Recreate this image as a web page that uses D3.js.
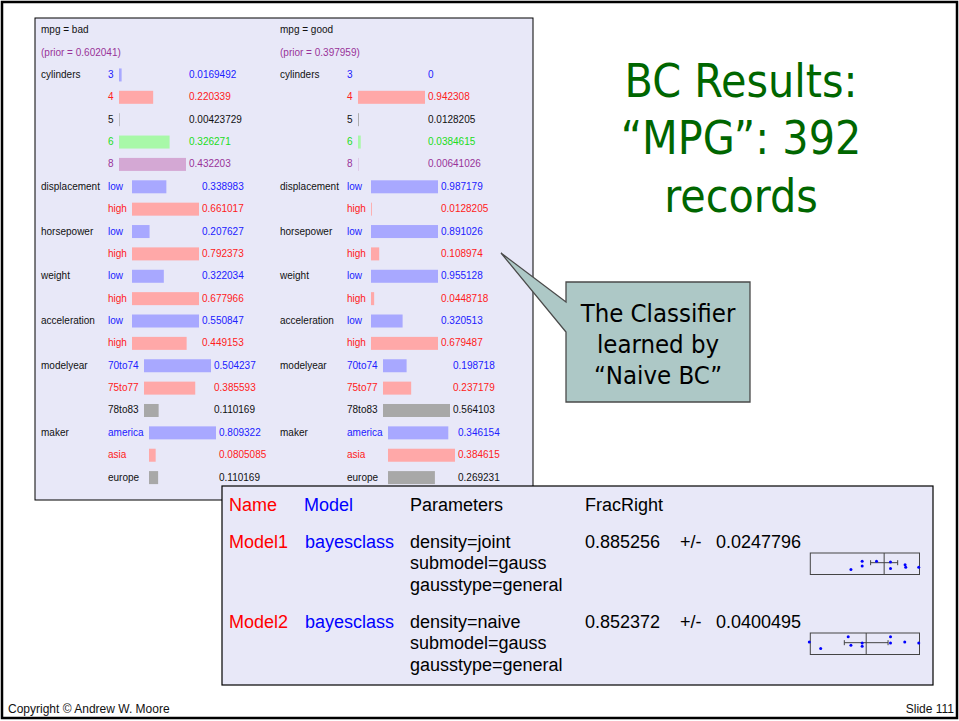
<!DOCTYPE html>
<html>
<head>
<meta charset="utf-8">
<script src="https://cdn.jsdelivr.net/npm/d3@7"></script>
<style>
  body { margin: 0; background: #fff; }
  svg { display: block; }
  .arial { font-family: "Liberation Sans", Arial, sans-serif; }
  .tahoma { font-family: "DejaVu Sans Condensed", "DejaVu Sans", Tahoma, sans-serif; font-stretch: condensed; }
</style>
</head>
<body>
<svg id="slide" width="959" height="721"></svg>
<script>
// classifier tables
const classNames = ['mpg = bad', 'mpg = good'];
const classPriors = ['0.602041', '0.397959'];
const attributes = ['cylinders', 'displacement', 'horsepower', 'weight', 'acceleration', 'modelyear', 'maker'];
const attributeLevels = [
    ['3', '4', '5', '6', '8'],
    ['low', 'high'],
    ['low', 'high'],
    ['low', 'high'],
    ['low', 'high'],
    ['70to74', '75to77', '78to83'],
    ['america', 'asia', 'europe']
];
const probBad = [
    [0.0169492, 0.220339, 0.00423729, 0.326271, 0.432203],
    [0.338983, 0.661017],
    [0.207627, 0.792373],
    [0.322034, 0.677966],
    [0.550847, 0.449153],
    [0.504237, 0.385593, 0.110169],
    [0.809322, 0.0805085, 0.110169]
];
const probGood = [
    [0, 0.942308, 0.0128205, 0.0384615, 0.00641026],
    [0.987179, 0.0128205],
    [0.891026, 0.108974],
    [0.955128, 0.0448718],
    [0.320513, 0.679487],
    [0.198718, 0.237179, 0.564103],
    [0.346154, 0.384615, 0.269231]
];

// results table
const resultHeaders = ['Name', 'Model', 'Parameters', 'FracRight'];
const modelNames = ['Model1', 'Model2'];
const modelTypes = ['bayesclass', 'bayesclass'];
const modelParams = [
    ['density=joint', 'submodel=gauss', 'gausstype=general'],
    ['density=naive', 'submodel=gauss', 'gausstype=general']
];
const fracRight = [0.885256, 0.852372];
const fracErr = [0.0247796, 0.0400495];
const foldScores = [
    [0.8244, 0.845, 0.845, 0.8713, 0.8969, 0.8969, 0.9236, 0.9248, 0.9486],
    [0.7482, 0.769, 0.8194, 0.8244, 0.845, 0.845, 0.8969, 0.8969, 0.923, 0.9486]
];
const foldJitter = [
    [0.77, 0.38, 0.61, 0.38, 0.42, 0.72, 0.55, 0.66, 0.66],
    [0.42, 0.72, 0.18, 0.57, 0.46, 0.62, 0.18, 0.46, 0.42, 0.46]
];

const titleLines = ['BC Results:', '\u201cMPG\u201d: 392', 'records'];
const calloutLines = ['The Classifier', 'learned by', '\u201cNaive BC\u201d'];

const textColors = ['#2020ff', '#ff2020', '#111', '#20dd20', '#993399'];
const barColors = ['#a8a8ff', '#ffa8a8', '#a8a8a8', '#a8f8a8', '#d4a8d4'];

const svg = d3.select('#slide');

// slide frame
svg.append('rect')
    .attr('x', 2).attr('y', 2).attr('width', 955).attr('height', 716)
    .attr('fill', '#fff').attr('stroke', '#000').attr('stroke-width', 2.5);

// ---- classifier panel ----
const panel = { x: 35, y: 18, w: 498, h: 482 };
svg.append('rect')
    .attr('x', panel.x).attr('y', panel.y).attr('width', panel.w).attr('height', panel.h)
    .attr('fill', '#e8e8f8').attr('stroke', '#000').attr('stroke-width', 1);

const nRows = 2 + d3.sum(attributeLevels, d => d.length);
const rowY = d3.scalePoint().domain(d3.range(nRows)).range([29.7, 477.1]);
const colX = d3.scaleOrdinal().domain([0, 1]).range([0, 239]);

const pg = svg.append('g').attr('class', 'arial').style('font-size', '10px');

classNames.forEach((cls, ci) => {
    const probs = ci === 0 ? probBad : probGood;
    const x0 = colX(ci);
    const g = pg.append('g').attr('transform', `translate(${x0},0)`);

    g.append('text').attr('x', 41).attr('y', rowY(0)).attr('dy', '0.35em')
        .attr('fill', '#111').text(cls);
    g.append('text').attr('x', 41).attr('y', rowY(1)).attr('dy', '0.35em')
        .attr('fill', '#993399').text(`(prior = ${classPriors[ci]})`);

    let row = 2;
    attributes.forEach((attr, ai) => {
        const levels = attributeLevels[ai];
        const vals = probs[ai];

        g.append('text').attr('x', 41).attr('y', rowY(row)).attr('dy', '0.35em')
            .attr('fill', '#111').text(attr);

        // level labels first, so we know how wide they are
        const labels = g.selectAll(null)
            .data(levels)
            .enter().append('text')
            .attr('x', 108)
            .attr('y', (d, i) => rowY(row + i))
            .attr('dy', '0.35em')
            .attr('fill', (d, i) => textColors[i])
            .text(d => d);
        let maxW = 0;
        labels.each(function () { maxW = Math.max(maxW, this.getComputedTextLength()); });
        const barStart = Math.round(108 + maxW + 5.5);

        const w = d3.scaleLinear().domain([0, d3.max(vals)]).range([0, 67]);

        g.selectAll(null)
            .data(vals)
            .enter().append('rect')
            .attr('x', barStart)
            .attr('y', (d, i) => rowY(row + i) - 6)
            .attr('width', d => w(d))
            .attr('height', 13)
            .attr('fill', (d, i) => barColors[i]);

        g.selectAll(null)
            .data(vals)
            .enter().append('text')
            .attr('x', barStart + 70)
            .attr('y', (d, i) => rowY(row + i))
            .attr('dy', '0.35em')
            .attr('fill', (d, i) => textColors[i])
            .text(d => String(d));

        row += levels.length;
    });
});

// ---- title ----
svg.append('g').attr('class', 'tahoma')
    .selectAll('text')
    .data(titleLines)
    .enter().append('text')
    .attr('x', 741)
    .attr('y', (d, i) => 96.5 + i * 57.5)
    .attr('text-anchor', 'middle')
    .attr('fill', '#006600')
    .style('font-size', '46px')
    .text(d => d);

// ---- callout ----
svg.append('path')
    .attr('d', 'M501,253 L566,302 L566,282 L750,282 L750,402 L566,402 L566,332 Z')
    .attr('fill', '#adc8c6').attr('stroke', '#4a4a4a').attr('stroke-width', 1.3);

svg.append('g').attr('class', 'tahoma')
    .selectAll('text')
    .data(calloutLines)
    .enter().append('text')
    .attr('x', 658)
    .attr('y', (d, i) => 321.5 + i * 31.3)
    .attr('text-anchor', 'middle')
    .attr('fill', '#000')
    .style('font-size', '25.5px')
    .text(d => d);

// ---- results table ----
svg.append('rect')
    .attr('x', 222).attr('y', 486).attr('width', 711).attr('height', 199)
    .attr('fill', '#e8e8f8').attr('stroke', '#000').attr('stroke-width', 1.2);

const tg = svg.append('g').attr('class', 'arial').style('font-size', '18px');
const headX = [229, 304, 410, 585];
const headColors = ['#ff0000', '#0000ff', '#000', '#000'];

tg.selectAll(null)
    .data(resultHeaders)
    .enter().append('text')
    .attr('x', (d, i) => headX[i]).attr('y', 511)
    .attr('fill', (d, i) => headColors[i])
    .text(d => d);

const modelY = d3.scaleOrdinal().domain([0, 1]).range([547.5, 627.5]);
const lineStep = 21.5;

modelNames.forEach((name, mi) => {
    const y = modelY(mi);
    tg.append('text').attr('x', 229).attr('y', y).attr('fill', '#ff0000').text(name);
    tg.append('text').attr('x', 305).attr('y', y).attr('fill', '#0000ff').text(modelTypes[mi]);
    tg.selectAll(null)
        .data(modelParams[mi])
        .enter().append('text')
        .attr('x', 410).attr('y', (d, i) => y + i * lineStep)
        .attr('fill', '#000')
        .text(d => d);
    tg.append('text').attr('x', 585).attr('y', y).attr('fill', '#000').text(String(fracRight[mi]));
    tg.append('text').attr('x', 680).attr('y', y).attr('fill', '#000').text('+/-');
    tg.append('text').attr('x', 716).attr('y', y).attr('fill', '#000').text(String(fracErr[mi]));

    // fold score box
    const bx = d3.scaleLinear().domain([0.75, 0.95]).range([810.3, 919.5]);
    const top = y + 5.5, bh = 21.5;
    const by = d3.scaleLinear().domain([0, 1]).range([top, top + bh]);
    const bg = svg.append('g');
    bg.append('rect')
        .attr('x', bx(0.75)).attr('y', top).attr('width', bx(0.95) - bx(0.75)).attr('height', bh)
        .attr('fill', 'none').attr('stroke', '#444').attr('stroke-width', 1);
    bg.append('line')
        .attr('x1', bx(fracRight[mi])).attr('x2', bx(fracRight[mi]))
        .attr('y1', top).attr('y2', top + bh)
        .attr('stroke', '#444').attr('stroke-width', 1);
    const ey = by(0.45);
    const e0 = bx(fracRight[mi] - fracErr[mi]), e1 = bx(fracRight[mi] + fracErr[mi]);
    bg.append('line').attr('x1', e0).attr('x2', e1).attr('y1', ey).attr('y2', ey)
        .attr('stroke', '#444').attr('stroke-width', 1);
    [e0, e1].forEach(ex => {
        bg.append('line').attr('x1', ex).attr('x2', ex).attr('y1', ey - 2.5).attr('y2', ey + 2.5)
            .attr('stroke', '#444').attr('stroke-width', 1);
    });
    bg.selectAll('circle')
        .data(foldScores[mi])
        .enter().append('circle')
        .attr('cx', d => bx(d))
        .attr('cy', (d, i) => by(foldJitter[mi][i]))
        .attr('r', 1.5)
        .attr('fill', '#0000ff');
});

// ---- footer ----
const fg = svg.append('g').attr('class', 'arial').style('font-size', '12px');
fg.append('text').attr('x', 8).attr('y', 713).attr('fill', '#111').text('Copyright \u00a9 Andrew W. Moore');
fg.append('text').attr('x', 954).attr('y', 713).attr('text-anchor', 'end').attr('fill', '#111').text('Slide 111');
</script>
</body>
</html>
